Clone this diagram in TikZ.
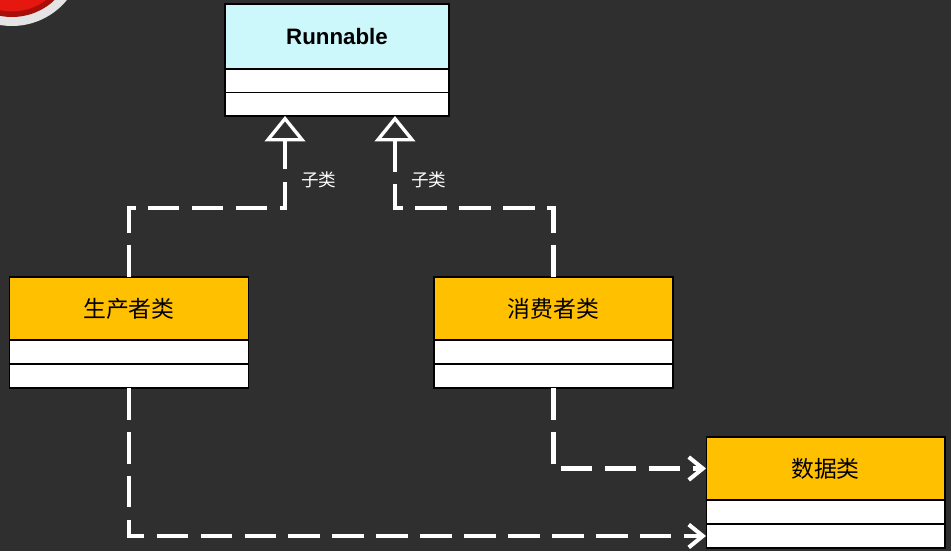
\documentclass[tikz,border=0pt]{standalone}
\usepackage{fontspec}
\setmainfont{Liberation Sans}
\newfontfamily\cjk{Noto Sans CJK SC}
\usetikzlibrary{positioning,arrows.meta}
\definecolor{bgdark}{HTML}{2F2F2F}
\definecolor{headcyan}{HTML}{CCF7FB}
\definecolor{headgold}{HTML}{FFC000}
\definecolor{badgered}{HTML}{E5170E}
\definecolor{badgedark}{HTML}{A80F08}
\definecolor{badgering}{HTML}{E4E4E4}
\tikzset{
  classhead/.style={draw=black, line width=0.6pt, outer sep=0pt, fill=headgold,
    minimum width=4.78cm, minimum height=1.26cm, font=\cjk\fontsize{13}{15}\selectfont},
  classrow/.style={draw=black, line width=0.6pt, outer sep=0pt, inner sep=0pt, fill=white,
    minimum width=4.78cm, minimum height=0.48cm},
  inherit/.style={white, line width=2.3pt, dash pattern=on 18pt off 7pt,
    -{Triangle[open, length=14.5pt, width=23pt, line width=1.9pt]}},
  dep/.style={white, line width=2.3pt, dash pattern=on 18pt off 7pt,
    -{Straight Barb[length=8pt, width=13pt]}},
  sublabel/.style={white, inner sep=0pt, font=\cjk\fontsize{10}{12}\selectfont}
}

\begin{document}
\begin{tikzpicture}[x=0.02cm, y=-0.02cm]
  % canvas
  \useasboundingbox (0,0) rectangle (951,551);
  \clip (0,0) rectangle (951,551);
  \fill[bgdark] (0,0) rectangle (951,551);
  % badge in the corner
  \fill[badgering] (12,-45) circle[radius=1.42cm];
  \fill[badgedark] (12,-45) circle[radius=1.24cm];
  \fill[badgered] (12,-45) circle[radius=1.13cm];
  % interface
  \node[classhead, fill=headcyan, minimum width=4.48cm, minimum height=1.30cm,
    font=\bfseries\fontsize{12.7}{15}\selectfont] (run) at (337,36.5) {Runnable};
  \node[classrow, minimum width=4.48cm, minimum height=0.47cm, below=0pt of run] (run-a) {};
  \node[classrow, minimum width=4.48cm, minimum height=0.47cm, below=0pt of run-a] (run-b) {};
  % classes
  \node[classhead] (prod) at (129,308.5) {生产者类};
  \node[classrow, below=0pt of prod] (prod-a) {};
  \node[classrow, below=0pt of prod-a] (prod-b) {};
  \node[classhead] (cons) at (553.5,308.5) {消费者类};
  \node[classrow, below=0pt of cons] (cons-a) {};
  \node[classrow, below=0pt of cons-a] (cons-b) {};
  \node[classhead] (data) at (825.5,468.5) {数据类};
  \node[classrow, below=0pt of data] (data-a) {};
  \node[classrow, below=0pt of data-a] (data-b) {};
  % inheritance
  \coordinate (inL) at ([xshift=-1.04cm]run-b.south);
  \coordinate (inR) at ([xshift=1.16cm]run-b.south);
  \draw[inherit] (prod.north) -- ++(0,-69) -| (inL)
    node[sublabel, pos=0.652, right=8pt] (subL) {子类};
  \draw[inherit] (cons.north) -- ++(0,-69) -| (inR)
    node[sublabel, pos=0.652, right=8pt] (subR) {子类};
  % dependencies
  \draw[dep] (cons-b.south) |- (data.west);
  \draw[dep] (prod-b.south) |- (data-b.west);
\end{tikzpicture}
\end{document}
